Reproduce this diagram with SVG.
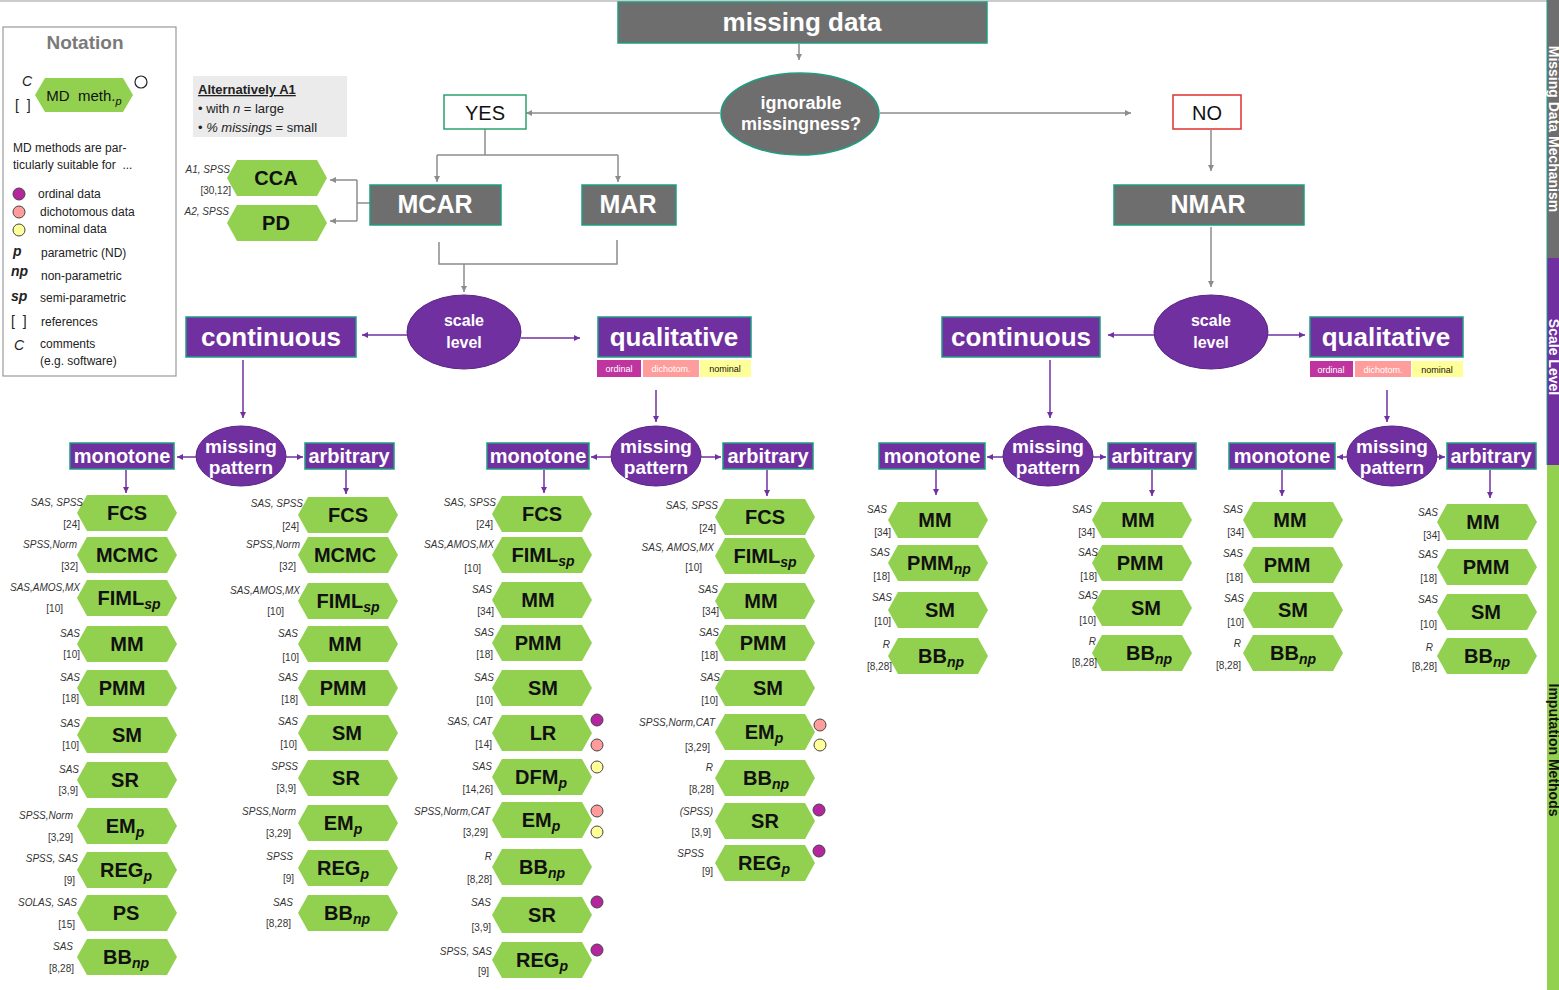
<svg xmlns="http://www.w3.org/2000/svg" xmlns:xlink="http://www.w3.org/1999/xlink" width="1559" height="990" viewBox="0 0 1559 990">
<style>
text{font-family:"Liberation Sans",Arial,sans-serif}
.gbox{fill:#6e6e6e;stroke:#1f9c82;stroke-width:1.5}
.pbox{fill:#7030a0;stroke:#1f9c82;stroke-width:1.5}
.pell{fill:#7030a0;stroke:#5a2585;stroke-width:1}
.wt{fill:#fff;font-weight:bold;text-anchor:middle}
.mt{font-size:20px;font-weight:bold;fill:#111;text-anchor:middle}
.sub{font-size:14px;font-style:italic}
.sw{font-size:10px;font-style:italic;fill:#333;text-anchor:end}
.rf{font-size:10px;fill:#333;text-anchor:end}
.hx{fill:#92d050}
.cg{stroke:#8c8c8c;stroke-width:1.5;fill:none}
.cp{stroke:#7030a0;stroke-width:1.5;fill:none}
.ag{marker-end:url(#ah-g)}
.ap{marker-end:url(#ah-p)}
.do{fill:#b5259e;stroke:#444;stroke-width:1}
.dd{fill:#ff9c9c;stroke:#444;stroke-width:1}
.dn{fill:#ffff99;stroke:#444;stroke-width:1}
.nt{font-size:12px;fill:#222}
</style>
<defs>
<path id="hx" class="hx" d="M0,18 L10,0 L90,0 L100,18 L90,36 L10,36 Z"/>
<marker id="ah-g" markerWidth="7" markerHeight="7" refX="6" refY="3.5" orient="auto" markerUnits="userSpaceOnUse"><path d="M0,0.5 L6,3.5 L0,6.5 z" fill="#8c8c8c"/></marker>
<marker id="ah-p" markerWidth="7" markerHeight="7" refX="6" refY="3.5" orient="auto" markerUnits="userSpaceOnUse"><path d="M0,0.5 L6,3.5 L0,6.5 z" fill="#7030a0"/></marker>
</defs>
<rect width="1559" height="990" fill="#fff"/>
<line x1="0" y1="1" x2="1547" y2="1" stroke="#999" stroke-width="1"/>

<!-- right strip -->
<g id="strip">
<rect x="1547" y="0" width="12" height="258" fill="#6e6e6e"/>
<rect x="1547" y="258" width="12" height="207" fill="#7030a0"/>
<rect x="1547" y="465" width="12" height="525" fill="#92d050"/>
<line x1="1547" y1="0" x2="1547" y2="465" stroke="#1f9c82" stroke-width="1"/>
<text transform="translate(1549,129) rotate(90)" font-size="14" font-weight="bold" fill="#fff" text-anchor="middle">Missing Data Mechanism</text>
<text transform="translate(1549,357) rotate(90)" font-size="14" font-weight="bold" fill="#fff" text-anchor="middle">Scale Level</text>
<text transform="translate(1549,750) rotate(90)" font-size="14" font-weight="bold" fill="#111" text-anchor="middle">Imputation Methods</text>
</g>

<!-- notation -->
<g id="notation">
<rect x="3" y="27" width="173" height="349" fill="#fff" stroke="#999" stroke-width="1.2"/>
<text x="85" y="49" font-size="19" font-weight="bold" fill="#7a7a7a" text-anchor="middle">Notation</text>
<path d="M35,95 L45,78 L123,78 L133,95 L123,112 L45,112 Z" fill="#92d050"/>
<text x="84" y="101" font-size="15" fill="#111" text-anchor="middle">MD&#160; meth.<tspan font-size="11" font-style="italic" dy="4">p</tspan></text>
<text x="22" y="86" font-size="14" font-style="italic" fill="#222">C</text>
<text x="15" y="110" font-size="14" fill="#222">[&#160;&#160;]</text>
<circle cx="141" cy="82" r="6" fill="#fff" stroke="#222" stroke-width="1.2"/>
<text class="nt" x="13" y="152">MD methods are par-</text>
<text class="nt" x="13" y="169">ticularly suitable for&#160; ...</text>
<circle class="do" cx="19" cy="194" r="6"/>
<circle class="dd" cx="19" cy="212" r="6"/>
<circle class="dn" cx="19" cy="230" r="6"/>
<text class="nt" x="38" y="198">ordinal data</text>
<text class="nt" x="40" y="216">dichotomous data</text>
<text class="nt" x="38" y="233">nominal data</text>
<text x="13" y="256" font-size="14" font-weight="bold" font-style="italic" fill="#222">p</text>
<text class="nt" x="41" y="257">parametric (ND)</text>
<text x="11" y="276" font-size="14" font-weight="bold" font-style="italic" fill="#222">np</text>
<text class="nt" x="41" y="280">non-parametric</text>
<text x="11" y="301" font-size="14" font-weight="bold" font-style="italic" fill="#222">sp</text>
<text class="nt" x="40" y="302">semi-parametric</text>
<text x="11" y="326" font-size="14" fill="#222">[&#160;&#160;]</text>
<text class="nt" x="41" y="326">references</text>
<text x="14" y="350" font-size="14" font-style="italic" fill="#222">C</text>
<text class="nt" x="40" y="348">comments</text>
<text class="nt" x="40" y="365">(e.g. software)</text>
</g>

<g id="alt-a1">
<rect x="193" y="76" width="154" height="61" fill="#ebebeb"/>
<text x="198" y="94" font-size="13" font-weight="bold" fill="#222" text-decoration="underline">Alternatively A1</text>
<text x="198" y="113" font-size="13" fill="#222">• with <tspan font-style="italic">n</tspan> = large</text>
<text x="198" y="132" font-size="13" fill="#222">• <tspan font-style="italic">% missings</tspan> = small</text>
</g>

<!-- connectors -->
<g id="connectors">
<line class="cg ag" x1="799" y1="44" x2="799" y2="60"/>
<line class="cg ag" x1="720" y1="113" x2="526" y2="113"/>
<line class="cg ag" x1="880" y1="113" x2="1131" y2="113"/>
<polyline class="cg" points="485,129 485,155"/>
<line class="cg" x1="437" y1="155" x2="618" y2="155"/>
<line class="cg ag" x1="437" y1="155" x2="437" y2="182"/>
<line class="cg ag" x1="618" y1="155" x2="618" y2="182"/>
<line class="cg ag" x1="1211" y1="130" x2="1211" y2="171"/>
<polyline class="cg" points="439,242 439,264 617,264 617,240"/>
<line class="cg ag" x1="464" y1="264" x2="464" y2="292"/>
<line class="cg ag" x1="1211" y1="227" x2="1211" y2="287"/>
<line class="cg" x1="370" y1="203" x2="357" y2="203"/>
<line class="cg" x1="357" y1="180" x2="357" y2="221"/>
<line class="cg ag" x1="357" y1="180" x2="330" y2="180"/>
<line class="cg ag" x1="357" y1="221" x2="330" y2="221"/>

<line class="cp ap" x1="407" y1="335" x2="362" y2="335"/>
<line class="cp ap" x1="521" y1="338" x2="580" y2="338"/>
<line class="cp ap" x1="243" y1="360" x2="243" y2="418"/>
<line class="cp ap" x1="656" y1="390" x2="656" y2="422"/>
<line class="cp ap" x1="196" y1="457" x2="177" y2="457"/>
<line class="cp ap" x1="286" y1="457" x2="303" y2="457"/>
<line class="cp ap" x1="126" y1="470" x2="126" y2="493"/>
<line class="cp ap" x1="346" y1="470" x2="346" y2="494"/>
<line class="cp ap" x1="611" y1="457" x2="591" y2="457"/>
<line class="cp ap" x1="701" y1="457" x2="721" y2="457"/>
<line class="cp ap" x1="544" y1="470" x2="544" y2="493"/>
<line class="cp ap" x1="767" y1="470" x2="767" y2="496"/>

<line class="cp ap" x1="1154" y1="335" x2="1108" y2="335"/>
<line class="cp ap" x1="1268" y1="335" x2="1305" y2="335"/>
<line class="cp ap" x1="1050" y1="360" x2="1050" y2="418"/>
<line class="cp ap" x1="1387" y1="390" x2="1387" y2="422"/>
<line class="cp ap" x1="1003" y1="457" x2="987" y2="457"/>
<line class="cp ap" x1="1093" y1="457" x2="1106" y2="457"/>
<line class="cp ap" x1="936" y1="470" x2="936" y2="495"/>
<line class="cp ap" x1="1152" y1="470" x2="1152" y2="496"/>
<line class="cp ap" x1="1347" y1="457" x2="1337" y2="457"/>
<line class="cp ap" x1="1437" y1="457" x2="1445" y2="457"/>
<line class="cp ap" x1="1282" y1="470" x2="1282" y2="496"/>
<line class="cp ap" x1="1490" y1="470" x2="1490" y2="498"/>
</g>

<!-- top nodes -->
<g id="missing-data"><rect class="gbox" x="618" y="2" width="369" height="41"/><text class="wt" x="802" y="31" font-size="26">missing data</text></g>
<g id="ignorable"><ellipse class="gbox" cx="800" cy="114" rx="79" ry="41"/><text class="wt" x="801" y="109" font-size="18">ignorable</text><text class="wt" x="801" y="130" font-size="18">missingness?</text></g>
<g id="yes"><rect x="444" y="95" width="82" height="34" fill="#fff" stroke="#2aa36b" stroke-width="1.5"/><text x="485" y="120" font-size="20" fill="#111" text-anchor="middle">YES</text></g>
<g id="no"><rect x="1173" y="95" width="68" height="34" fill="#fff" stroke="#e0312f" stroke-width="1.5"/><text x="1207" y="120" font-size="20" fill="#111" text-anchor="middle">NO</text></g>
<g id="mcar"><rect class="gbox" x="370" y="185" width="131" height="40"/><text class="wt" x="435" y="213" font-size="25">MCAR</text></g>
<g id="mar"><rect class="gbox" x="582" y="185" width="94" height="40"/><text class="wt" x="628" y="213" font-size="25">MAR</text></g>
<g id="nmar"><rect class="gbox" x="1114" y="185" width="190" height="40"/><text class="wt" x="1208" y="213" font-size="25">NMAR</text></g>

<g id="cca"><use href="#hx" x="227" y="160"/><text class="mt" x="276" y="185">CCA</text><text class="sw" x="230" y="173">A1, SPSS</text><text class="rf" x="231" y="194">[30,12]</text></g>
<g id="pd"><use href="#hx" x="227" y="205"/><text class="mt" x="276" y="230">PD</text><text class="sw" x="229" y="215">A2, SPSS</text></g>

<!-- scale level MCAR/MAR -->
<g id="scale1"><ellipse class="pell" cx="464" cy="332" rx="57" ry="37"/><text class="wt" x="464" y="326" font-size="16">scale</text><text class="wt" x="464" y="348" font-size="16">level</text></g>
<g id="cont1"><rect class="pbox" x="186" y="317" width="170" height="40"/><text class="wt" x="271" y="346" font-size="26">continuous</text></g>
<g id="qual1"><rect class="pbox" x="598" y="317" width="153" height="40"/><text class="wt" x="674" y="346" font-size="26">qualitative</text>
<rect x="597" y="360" width="44" height="17" fill="#c0349f"/><text x="619" y="372" font-size="9" fill="#fff" text-anchor="middle">ordinal</text>
<rect x="643" y="360" width="56" height="17" fill="#ff9c9c"/><text x="671" y="372" font-size="9" fill="#fff" text-anchor="middle">dichotom.</text>
<rect x="700" y="360" width="51" height="17" fill="#ffff99"/><text x="725" y="372" font-size="9" fill="#111" text-anchor="middle">nominal</text></g>

<g id="mp1"><ellipse class="pell" cx="241" cy="456" rx="45" ry="30"/><text class="wt" x="241" y="453" font-size="19">missing</text><text class="wt" x="241" y="474" font-size="19">pattern</text></g>
<g id="mono1"><rect class="pbox" x="70" y="443" width="104" height="26"/><text class="wt" x="122" y="463" font-size="20">monotone</text></g>
<g id="arb1"><rect class="pbox" x="305" y="443" width="89" height="26"/><text class="wt" x="349" y="463" font-size="20">arbitrary</text></g>

<g id="mp2"><ellipse class="pell" cx="656" cy="456" rx="45" ry="30"/><text class="wt" x="656" y="453" font-size="19">missing</text><text class="wt" x="656" y="474" font-size="19">pattern</text></g>
<g id="mono2"><rect class="pbox" x="487" y="443" width="102" height="26"/><text class="wt" x="538" y="463" font-size="20">monotone</text></g>
<g id="arb2"><rect class="pbox" x="723" y="443" width="90" height="26"/><text class="wt" x="768" y="463" font-size="20">arbitrary</text></g>

<!-- NMAR scale -->
<g id="scale2"><ellipse class="pell" cx="1211" cy="332" rx="57" ry="37"/><text class="wt" x="1211" y="326" font-size="16">scale</text><text class="wt" x="1211" y="348" font-size="16">level</text></g>
<g id="cont2"><rect class="pbox" x="942" y="317" width="158" height="40"/><text class="wt" x="1021" y="346" font-size="26">continuous</text></g>
<g id="qual2"><rect class="pbox" x="1310" y="317" width="153" height="40"/><text class="wt" x="1386" y="346" font-size="26">qualitative</text>
<rect x="1310" y="361" width="43" height="16" fill="#c0349f"/><text x="1331" y="373" font-size="9" fill="#fff" text-anchor="middle">ordinal</text>
<rect x="1355" y="361" width="56" height="16" fill="#ff9c9c"/><text x="1383" y="373" font-size="9" fill="#fff" text-anchor="middle">dichotom.</text>
<rect x="1412" y="361" width="51" height="16" fill="#ffff99"/><text x="1437" y="373" font-size="9" fill="#111" text-anchor="middle">nominal</text></g>

<g id="mp3"><ellipse class="pell" cx="1048" cy="456" rx="45" ry="30"/><text class="wt" x="1048" y="453" font-size="19">missing</text><text class="wt" x="1048" y="474" font-size="19">pattern</text></g>
<g id="mono3"><rect class="pbox" x="879" y="443" width="106" height="26"/><text class="wt" x="932" y="463" font-size="20">monotone</text></g>
<g id="arb3"><rect class="pbox" x="1108" y="443" width="88" height="26"/><text class="wt" x="1152" y="463" font-size="20">arbitrary</text></g>

<g id="mp4"><ellipse class="pell" cx="1392" cy="456" rx="45" ry="30"/><text class="wt" x="1392" y="453" font-size="19">missing</text><text class="wt" x="1392" y="474" font-size="19">pattern</text></g>
<g id="mono4"><rect class="pbox" x="1229" y="443" width="106" height="26"/><text class="wt" x="1282" y="463" font-size="20">monotone</text></g>
<g id="arb4"><rect class="pbox" x="1447" y="443" width="89" height="26"/><text class="wt" x="1491" y="463" font-size="20">arbitrary</text></g>

<!-- column 1: continuous monotone -->
<g id="c1-fcs"><use href="#hx" x="77" y="495"/><text class="mt" x="127" y="520">FCS</text><text class="sw" x="83" y="506">SAS, SPSS</text><text class="rf" x="80" y="528">[24]</text></g>
<g id="c1-mcmc"><use href="#hx" x="77" y="537"/><text class="mt" x="127" y="562">MCMC</text><text class="sw" x="77" y="548">SPSS,Norm</text><text class="rf" x="78" y="570">[32]</text></g>
<g id="c1-fiml"><use href="#hx" x="77" y="580"/><text class="mt" x="129" y="605">FIML<tspan class="sub" dy="4">sp</tspan></text><text class="sw" x="80" y="591">SAS,AMOS,MX</text><text class="rf" x="63" y="612">[10]</text></g>
<g id="c1-mm"><use href="#hx" x="77" y="626"/><text class="mt" x="127" y="651">MM</text><text class="sw" x="80" y="637">SAS</text><text class="rf" x="80" y="658">[10]</text></g>
<g id="c1-pmm"><use href="#hx" x="77" y="670"/><text class="mt" x="122" y="695">PMM</text><text class="sw" x="80" y="681">SAS</text><text class="rf" x="79" y="702">[18]</text></g>
<g id="c1-sm"><use href="#hx" x="77" y="717"/><text class="mt" x="127" y="742">SM</text><text class="sw" x="80" y="727">SAS</text><text class="rf" x="79" y="749">[10]</text></g>
<g id="c1-sr"><use href="#hx" x="77" y="762"/><text class="mt" x="125" y="787">SR</text><text class="sw" x="79" y="773">SAS</text><text class="rf" x="78" y="794">[3,9]</text></g>
<g id="c1-em"><use href="#hx" x="77" y="808"/><text class="mt" x="125" y="833">EM<tspan class="sub" dy="4">p</tspan></text><text class="sw" x="73" y="819">SPSS,Norm</text><text class="rf" x="73" y="841">[3,29]</text></g>
<g id="c1-reg"><use href="#hx" x="77" y="852"/><text class="mt" x="126" y="877">REG<tspan class="sub" dy="4">p</tspan></text><text class="sw" x="78" y="862">SPSS, SAS</text><text class="rf" x="75" y="884">[9]</text></g>
<g id="c1-ps"><use href="#hx" x="77" y="895"/><text class="mt" x="126" y="920">PS</text><text class="sw" x="77" y="906">SOLAS, SAS</text><text class="rf" x="75" y="928">[15]</text></g>
<g id="c1-bb"><use href="#hx" x="77" y="939"/><text class="mt" x="126" y="964">BB<tspan class="sub" dy="4">np</tspan></text><text class="sw" x="73" y="950">SAS</text><text class="rf" x="74" y="972">[8,28]</text></g>

<!-- column 2: continuous arbitrary -->
<g id="c2-fcs"><use href="#hx" x="298" y="497"/><text class="mt" x="348" y="522">FCS</text><text class="sw" x="303" y="507">SAS, SPSS</text><text class="rf" x="299" y="530">[24]</text></g>
<g id="c2-mcmc"><use href="#hx" x="298" y="537"/><text class="mt" x="345" y="562">MCMC</text><text class="sw" x="300" y="548">SPSS,Norm</text><text class="rf" x="296" y="570">[32]</text></g>
<g id="c2-fiml"><use href="#hx" x="298" y="583"/><text class="mt" x="348" y="608">FIML<tspan class="sub" dy="4">sp</tspan></text><text class="sw" x="300" y="594">SAS,AMOS,MX</text><text class="rf" x="284" y="615">[10]</text></g>
<g id="c2-mm"><use href="#hx" x="298" y="626"/><text class="mt" x="345" y="651">MM</text><text class="sw" x="298" y="637">SAS</text><text class="rf" x="299" y="661">[10]</text></g>
<g id="c2-pmm"><use href="#hx" x="298" y="670"/><text class="mt" x="343" y="695">PMM</text><text class="sw" x="298" y="681">SAS</text><text class="rf" x="298" y="703">[18]</text></g>
<g id="c2-sm"><use href="#hx" x="298" y="715"/><text class="mt" x="347" y="740">SM</text><text class="sw" x="298" y="725">SAS</text><text class="rf" x="297" y="748">[10]</text></g>
<g id="c2-sr"><use href="#hx" x="298" y="760"/><text class="mt" x="346" y="785">SR</text><text class="sw" x="298" y="770">SPSS</text><text class="rf" x="296" y="792">[3,9]</text></g>
<g id="c2-em"><use href="#hx" x="298" y="805"/><text class="mt" x="343" y="830">EM<tspan class="sub" dy="4">p</tspan></text><text class="sw" x="296" y="815">SPSS,Norm</text><text class="rf" x="291" y="837">[3,29]</text></g>
<g id="c2-reg"><use href="#hx" x="298" y="850"/><text class="mt" x="343" y="875">REG<tspan class="sub" dy="4">p</tspan></text><text class="sw" x="293" y="860">SPSS</text><text class="rf" x="294" y="882">[9]</text></g>
<g id="c2-bb"><use href="#hx" x="298" y="895"/><text class="mt" x="347" y="920">BB<tspan class="sub" dy="4">np</tspan></text><text class="sw" x="293" y="906">SAS</text><text class="rf" x="291" y="927">[8,28]</text></g>

<!-- column 3: qualitative monotone -->
<g id="c3-fcs"><use href="#hx" x="492" y="496"/><text class="mt" x="542" y="521">FCS</text><text class="sw" x="496" y="506">SAS, SPSS</text><text class="rf" x="493" y="528">[24]</text></g>
<g id="c3-fiml"><use href="#hx" x="492" y="537"/><text class="mt" x="543" y="562">FIML<tspan class="sub" dy="4">sp</tspan></text><text class="sw" x="494" y="548">SAS,AMOS,MX</text><text class="rf" x="481" y="572">[10]</text></g>
<g id="c3-mm"><use href="#hx" x="492" y="582"/><text class="mt" x="538" y="607">MM</text><text class="sw" x="492" y="593">SAS</text><text class="rf" x="494" y="615">[34]</text></g>
<g id="c3-pmm"><use href="#hx" x="492" y="625"/><text class="mt" x="538" y="650">PMM</text><text class="sw" x="494" y="636">SAS</text><text class="rf" x="493" y="658">[18]</text></g>
<g id="c3-sm"><use href="#hx" x="492" y="670"/><text class="mt" x="543" y="695">SM</text><text class="sw" x="494" y="681">SAS</text><text class="rf" x="493" y="704">[10]</text></g>
<g id="c3-lr"><use href="#hx" x="492" y="715"/><text class="mt" x="543" y="740">LR</text><text class="sw" x="492" y="725">SAS, CAT</text><text class="rf" x="492" y="748">[14]</text></g>
<g id="c3-dfm"><use href="#hx" x="492" y="759"/><text class="mt" x="541" y="784">DFM<tspan class="sub" dy="4">p</tspan></text><text class="sw" x="492" y="770">SAS</text><text class="rf" x="493" y="793">[14,26]</text></g>
<g id="c3-em"><use href="#hx" x="492" y="802"/><text class="mt" x="541" y="827">EM<tspan class="sub" dy="4">p</tspan></text><text class="sw" x="490" y="815">SPSS,Norm,CAT</text><text class="rf" x="488" y="836">[3,29]</text></g>
<g id="c3-bb"><use href="#hx" x="492" y="849"/><text class="mt" x="542" y="874">BB<tspan class="sub" dy="4">np</tspan></text><text class="sw" x="492" y="860">R</text><text class="rf" x="492" y="883">[8,28]</text></g>
<g id="c3-sr"><use href="#hx" x="492" y="897"/><text class="mt" x="542" y="922">SR</text><text class="sw" x="491" y="906">SAS</text><text class="rf" x="491" y="931">[3,9]</text></g>
<g id="c3-reg"><use href="#hx" x="492" y="942"/><text class="mt" x="542" y="967">REG<tspan class="sub" dy="4">p</tspan></text><text class="sw" x="492" y="955">SPSS, SAS</text><text class="rf" x="489" y="975">[9]</text></g>
<g id="c3-dots">
<circle class="do" cx="597" cy="720" r="6"/><circle class="dd" cx="597" cy="745" r="6"/>
<circle class="dn" cx="597" cy="767" r="6"/>
<circle class="dd" cx="597" cy="811" r="6"/><circle class="dn" cx="597" cy="832" r="6"/>
<circle class="do" cx="597" cy="902" r="6"/>
<circle class="do" cx="597" cy="950" r="6"/>
</g>

<!-- column 4: qualitative arbitrary -->
<g id="c4-fcs"><use href="#hx" x="715" y="499"/><text class="mt" x="765" y="524">FCS</text><text class="sw" x="718" y="509">SAS, SPSS</text><text class="rf" x="716" y="532">[24]</text></g>
<g id="c4-fiml"><use href="#hx" x="715" y="538"/><text class="mt" x="765" y="563">FIML<tspan class="sub" dy="4">sp</tspan></text><text class="sw" x="714" y="551">SAS, AMOS,MX</text><text class="rf" x="702" y="571">[10]</text></g>
<g id="c4-mm"><use href="#hx" x="715" y="583"/><text class="mt" x="761" y="608">MM</text><text class="sw" x="718" y="593">SAS</text><text class="rf" x="719" y="615">[34]</text></g>
<g id="c4-pmm"><use href="#hx" x="715" y="625"/><text class="mt" x="763" y="650">PMM</text><text class="sw" x="719" y="636">SAS</text><text class="rf" x="718" y="659">[18]</text></g>
<g id="c4-sm"><use href="#hx" x="715" y="670"/><text class="mt" x="768" y="695">SM</text><text class="sw" x="720" y="681">SAS</text><text class="rf" x="718" y="704">[10]</text></g>
<g id="c4-em"><use href="#hx" x="715" y="714"/><text class="mt" x="764" y="739">EM<tspan class="sub" dy="4">p</tspan></text><text class="sw" x="715" y="726">SPSS,Norm,CAT</text><text class="rf" x="710" y="751">[3,29]</text></g>
<g id="c4-bb"><use href="#hx" x="715" y="760"/><text class="mt" x="766" y="785">BB<tspan class="sub" dy="4">np</tspan></text><text class="sw" x="713" y="771">R</text><text class="rf" x="714" y="793">[8,28]</text></g>
<g id="c4-sr"><use href="#hx" x="715" y="803"/><text class="mt" x="765" y="828">SR</text><text class="sw" x="713" y="815">(SPSS)</text><text class="rf" x="711" y="836">[3,9]</text></g>
<g id="c4-reg"><use href="#hx" x="715" y="845"/><text class="mt" x="764" y="870">REG<tspan class="sub" dy="4">p</tspan></text><text class="sw" x="704" y="857">SPSS</text><text class="rf" x="713" y="875">[9]</text></g>
<g id="c4-dots">
<circle class="dd" cx="820" cy="725" r="6"/><circle class="dn" cx="820" cy="745" r="6"/>
<circle class="do" cx="819" cy="810" r="6"/>
<circle class="do" cx="819" cy="851" r="6"/>
</g>

<!-- column 5: NMAR continuous monotone -->
<g id="c5-mm"><use href="#hx" x="888" y="502"/><text class="mt" x="935" y="527">MM</text><text class="sw" x="887" y="513">SAS</text><text class="rf" x="891" y="536">[34]</text></g>
<g id="c5-pmm"><use href="#hx" x="888" y="545"/><text class="mt" x="939" y="570">PMM<tspan class="sub" dy="4">np</tspan></text><text class="sw" x="890" y="556">SAS</text><text class="rf" x="890" y="580">[18]</text></g>
<g id="c5-sm"><use href="#hx" x="888" y="592"/><text class="mt" x="940" y="617">SM</text><text class="sw" x="892" y="601">SAS</text><text class="rf" x="891" y="625">[10]</text></g>
<g id="c5-bb"><use href="#hx" x="888" y="638"/><text class="mt" x="941" y="663">BB<tspan class="sub" dy="4">np</tspan></text><text class="sw" x="890" y="648">R</text><text class="rf" x="892" y="670">[8,28]</text></g>

<!-- column 6: NMAR continuous arbitrary -->
<g id="c6-mm"><use href="#hx" x="1092" y="502"/><text class="mt" x="1138" y="527">MM</text><text class="sw" x="1092" y="513">SAS</text><text class="rf" x="1095" y="536">[34]</text></g>
<g id="c6-pmm"><use href="#hx" x="1092" y="545"/><text class="mt" x="1140" y="570">PMM</text><text class="sw" x="1098" y="556">SAS</text><text class="rf" x="1097" y="580">[18]</text></g>
<g id="c6-sm"><use href="#hx" x="1092" y="590"/><text class="mt" x="1146" y="615">SM</text><text class="sw" x="1098" y="599">SAS</text><text class="rf" x="1096" y="624">[10]</text></g>
<g id="c6-bb"><use href="#hx" x="1092" y="635"/><text class="mt" x="1149" y="660">BB<tspan class="sub" dy="4">np</tspan></text><text class="sw" x="1096" y="645">R</text><text class="rf" x="1097" y="666">[8,28]</text></g>

<!-- column 7: NMAR qualitative monotone -->
<g id="c7-mm"><use href="#hx" x="1243" y="502"/><text class="mt" x="1290" y="527">MM</text><text class="sw" x="1243" y="513">SAS</text><text class="rf" x="1244" y="536">[34]</text></g>
<g id="c7-pmm"><use href="#hx" x="1243" y="547"/><text class="mt" x="1287" y="572">PMM</text><text class="sw" x="1243" y="557">SAS</text><text class="rf" x="1243" y="581">[18]</text></g>
<g id="c7-sm"><use href="#hx" x="1243" y="592"/><text class="mt" x="1293" y="617">SM</text><text class="sw" x="1244" y="602">SAS</text><text class="rf" x="1244" y="626">[10]</text></g>
<g id="c7-bb"><use href="#hx" x="1243" y="635"/><text class="mt" x="1293" y="660">BB<tspan class="sub" dy="4">np</tspan></text><text class="sw" x="1241" y="647">R</text><text class="rf" x="1241" y="669">[8,28]</text></g>

<!-- column 8: NMAR qualitative arbitrary -->
<g id="c8-mm"><use href="#hx" x="1437" y="504"/><text class="mt" x="1483" y="529">MM</text><text class="sw" x="1438" y="516">SAS</text><text class="rf" x="1440" y="539">[34]</text></g>
<g id="c8-pmm"><use href="#hx" x="1437" y="549"/><text class="mt" x="1486" y="574">PMM</text><text class="sw" x="1438" y="558">SAS</text><text class="rf" x="1437" y="582">[18]</text></g>
<g id="c8-sm"><use href="#hx" x="1437" y="594"/><text class="mt" x="1486" y="619">SM</text><text class="sw" x="1438" y="603">SAS</text><text class="rf" x="1437" y="628">[10]</text></g>
<g id="c8-bb"><use href="#hx" x="1437" y="638"/><text class="mt" x="1487" y="663">BB<tspan class="sub" dy="4">np</tspan></text><text class="sw" x="1433" y="651">R</text><text class="rf" x="1437" y="670">[8,28]</text></g>
</svg>
